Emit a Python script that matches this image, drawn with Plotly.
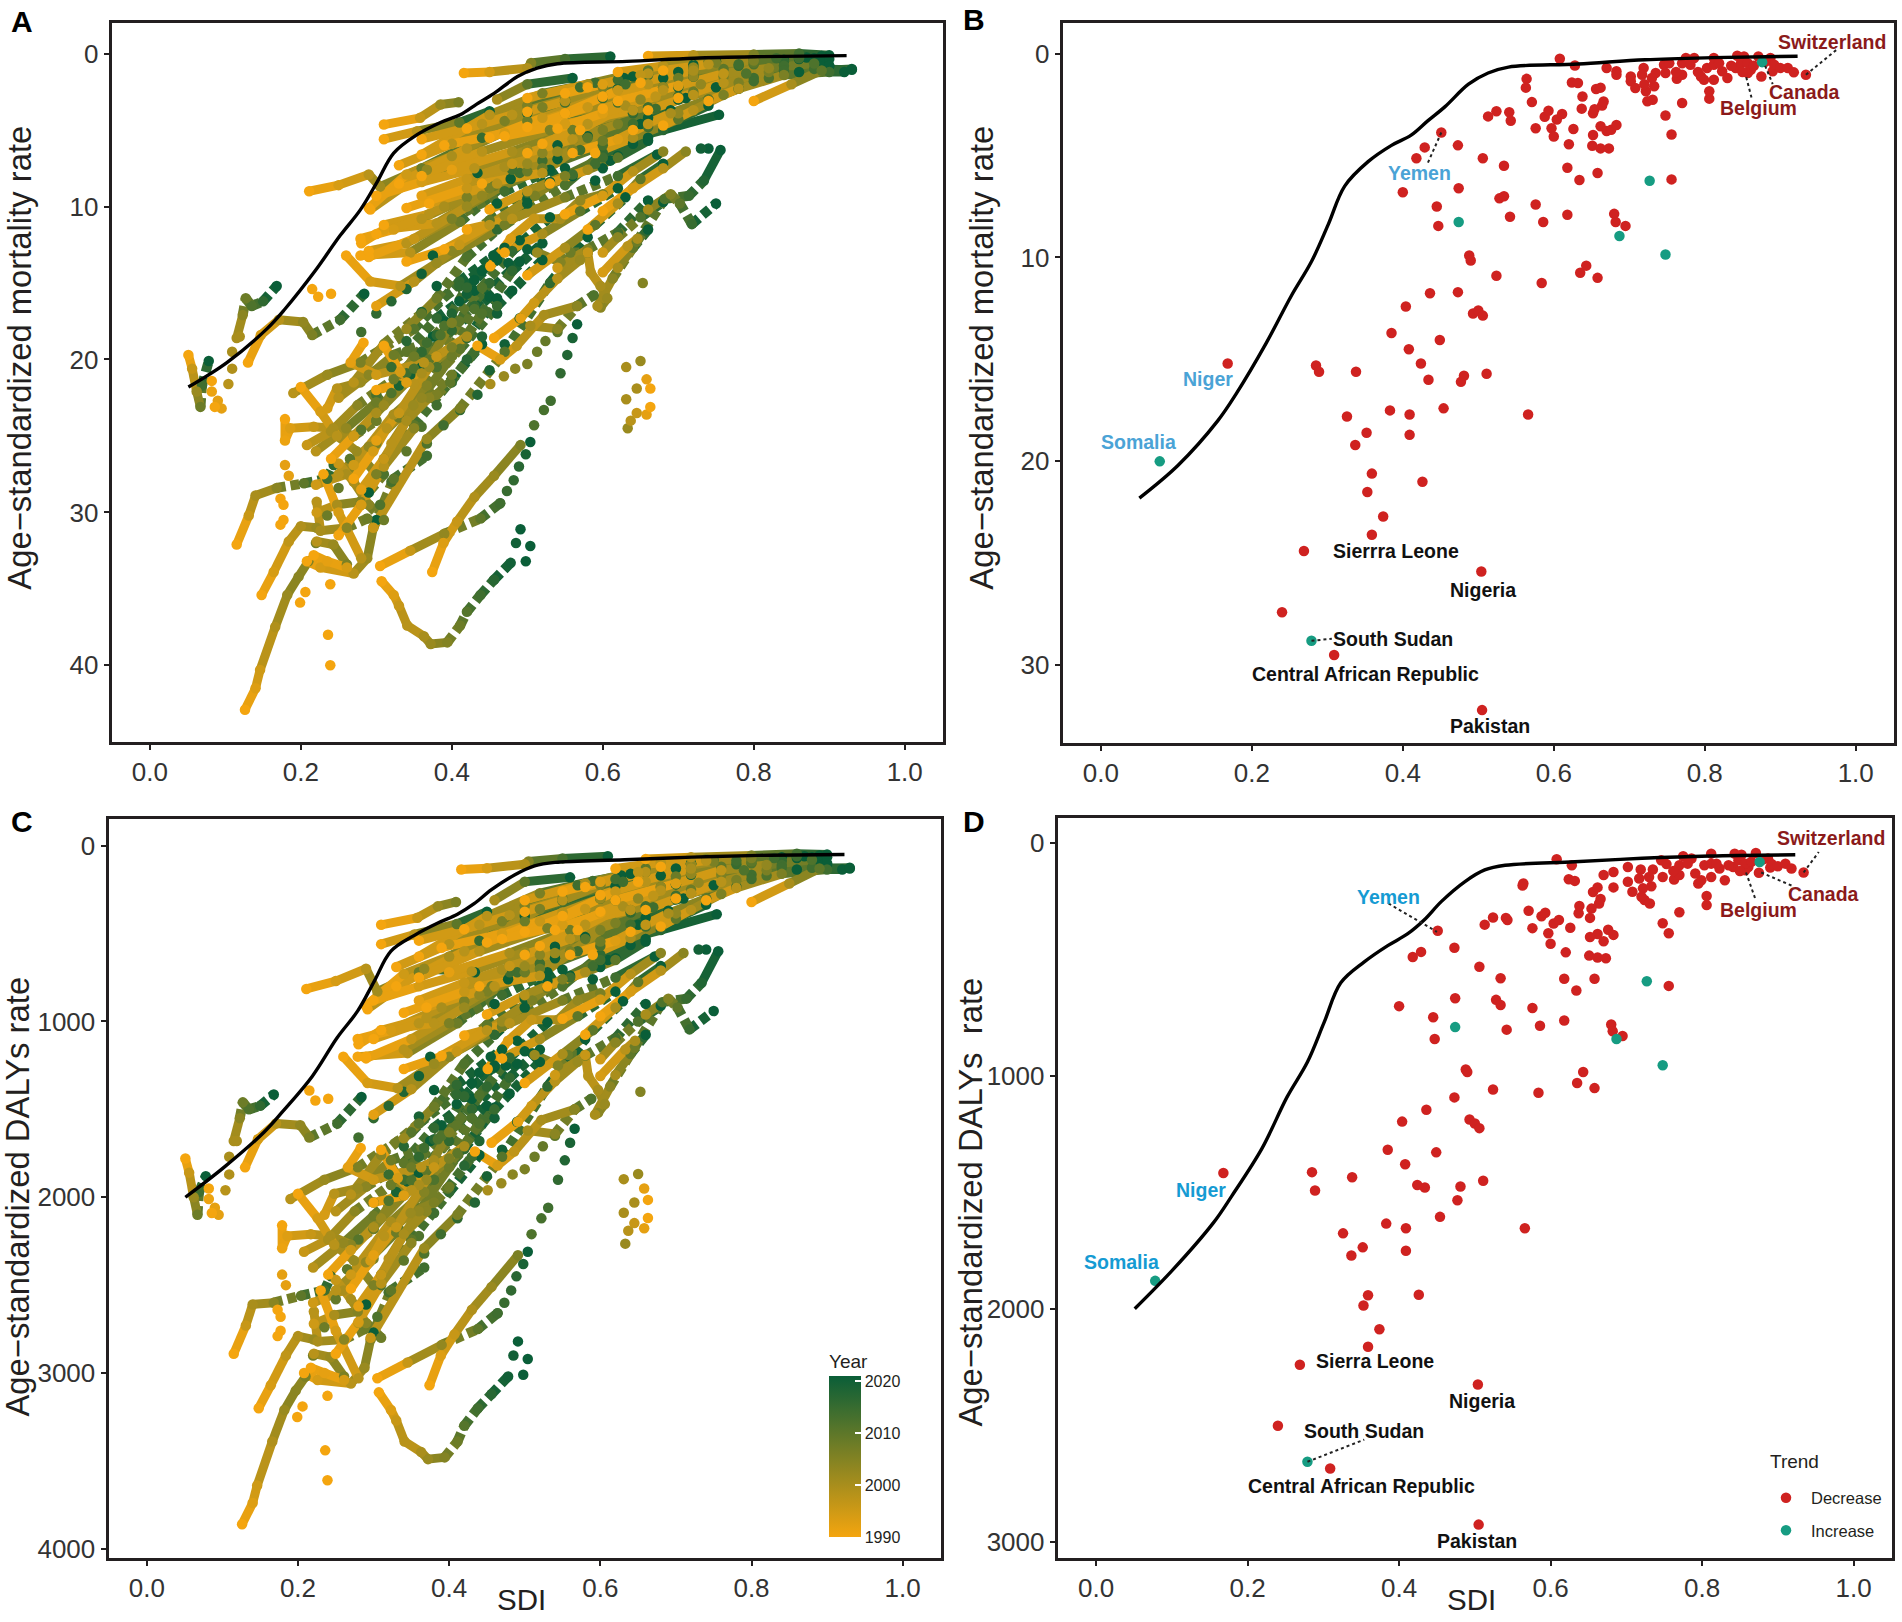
import plotly.graph_objects as go

# ---- expected curve
CURVE_SDI = [.051,.102,.155,.179,.219,.252,.279,.301,.323,.354,.385,.411,.433,.456,.487,.513,.54,.632,.721,.81,.923]
CURVE_MORT = [21.8,20.2,18,16.7,14.2,11.9,10.2,8.4,6.5,5.3,4.5,4,3.3,2.6,1.5,.95,.66,.51,.3,.2,.13]
CURVE_DALY = [2000,1830,1630,1516,1311,1091,940,770,600,510,440,390,330,250,165,115,95,80,65,55,50]

# ---- country paths drawn as connected tracks
TRACK_SDI = [
 [.416,.45,.50,.505,.55,.61],[.31,.354,.41,.45],[.31,.358,.385,.409],[.211,.25,.29,.305,.36,.44,.5],
 [.29,.34,.40,.50,.60,.68],[.33,.42,.52,.62,.72],[.36,.45,.52,.59,.628],[.46,.5,.56],
 [.55,.62,.72,.8,.88],[.45,.52,.6,.7,.78,.86],[.5,.58,.68,.76,.84,.89],[.6,.68,.76,.84,.9],
 [.66,.72,.8,.86,.9],[.7,.76,.82,.88,.93],[.74,.78,.84,.9,.92],[.8,.85,.89,.93],
 [.65,.72,.8,.87],[.58,.66,.75,.83,.89],[.5,.58,.66,.75],[.28,.31,.38,.44,.52,.6,.68,.754],
 [.29,.35,.42,.5,.57,.66],[.26,.292,.332,.38,.47,.55,.6,.65],[.31,.37,.45,.52,.58],[.37,.46,.56,.64,.69],
 [.44,.52,.6,.66,.71],[.42,.48,.55,.62,.672],[.5,.56,.62,.67,.7],[.57,.63,.68,.72],
 [.59,.64,.7,.74],[.593,.613,.645,.682,.714,.734,.756],[.66,.69,.702,.718,.75],[.115,.131,.14,.168,.204,.235,.2435],
 [.126,.14,.146,.166,.182,.197,.21],[.148,.164,.184,.2,.221],[.208,.226,.27,.288,.296,.323,.367],[.305,.345,.39,.438,.464],
 [.374,.389,.407,.43,.456,.491],[.307,.323,.33,.341,.363,.372,.394,.411,.42,.438,.456,.478],[.051,.056,.062,.067,.069,.078],[.115,.123,.127,.135,.15,.168],
 [.13,.147,.171,.203,.215,.252,.284],[.2,.226,.248,.274,.30],[.179,.179,.186,.217,.243,.27,.30],[.27,.296,.314,.349,.38,.398,.43],
 [.31,.332,.35,.38,.41,.45],[.283,.266,.30,.363,.38],[.208,.24,.275,.323,.385,.43,.49],[.19,.235,.279,.35,.41,.47],
 [.235,.248,.279,.323,.367],[.27,.323,.367,.411,.46,.52],[.296,.367,.411,.47,.53,.58],[.221,.248,.279,.31],
 [.221,.226,.261,.288],[.217,.235,.261],[.221,.243,.261],[.456,.491,.509,.54,.57],
 [.513,.544,.557,.58],[.504,.54,.566,.588],[.434,.464,.486,.522,.566],[.58,.584,.597,.606,.597],
 [.6,.633,.646],[.451,.478,.509,.544,.57,.6],[.279,.323,.39,.456,.49,.54],[.279,.345,.411,.478],
 [.292,.367,.434],[.36,.44,.53,.62,.7],[.39,.47,.55,.65,.72,.8],[.47,.55,.64,.72,.82],
 [.33,.40,.47,.55,.62],[.36,.44,.5,.57,.64],[.42,.48,.55,.63,.7],[.5,.55,.6,.66,.72],
 [.55,.6,.65,.72,.8],[.6,.66,.72,.78,.84],[.62,.68,.74,.8,.86],[.68,.74,.8,.86,.9],
 [.62,.7,.76,.82,.88],[.66,.72,.78,.84,.9],[.52,.58,.64,.7,.75],[.54,.6,.67,.73,.79],
 [.56,.62,.66,.7,.74],[.64,.69,.74,.78],[.68,.72,.76,.8,.86],[.3,.36,.42,.48,.54],
 [.29,.34,.4,.47,.53],[.34,.41,.47,.53,.59,.64],[.39,.45,.51,.56,.62],[.45,.5,.55,.6,.66],
 [.53,.58,.62,.66],[.55,.6,.64,.68],[.6,.64,.68,.71],[.47,.52,.57,.62],
 [.5,.55,.59,.63],[.58,.62,.65,.68],[.54,.58,.62,.66],[.62,.64,.66],[.6,.62,.65,.68],
 [.22,.26,.3,.35,.4,.45],[.25,.29,.33,.38,.42,.46],[.25,.29,.34,.38,.43],[.27,.31,.36,.41,.46],
 [.22,.26,.3],[.28,.31,.35,.4,.44],[.3,.33,.37,.4,.43],[.32,.36,.4,.44,.48,.52],
 [.36,.4,.44,.48,.53],[.25,.27,.29,.31],[.23,.25,.28],[.31,.35,.39,.42,.46],
 [.34,.38,.42,.46,.5],[.3,.35,.4,.45,.5,.55],
 [.24,.27,.3,.34,.37],[.25,.28,.31,.35],[.28,.31,.34,.37,.4],[.3,.34,.38,.42],
 [.3,.36,.43,.5],[.34,.42,.5,.58],[.4,.48,.56,.64],[.36,.42,.47,.52],[.48,.54,.6,.66],
]
TRACK_MORT = [
 [1.27,1.2,.95,.62,.35,.19],[5.6,5.07,4.5,3.77],[4.64,4.2,3.33,3.18],[9,8.6,7.9,8.7,7.5,5.5,3.9],
 [10.1,7.9,6.7,4.4,2.9,1.6],[8.5,6.2,3.5,1.7,.73],[6.6,4.0,2.6,1.9,1.6],[3,2.0,1.6],
 [3.9,2.4,1.5,.7,.3],[5.5,4.2,2.8,1.6,.8,.35],[4.8,3.5,2.2,1.0,.5,.6],[3.6,2.4,1.5,.8,.8],
 [.15,.1,.05,.0,.1],[2.9,1.9,1.2,1,1.05],[3.1,2.3,1.4,1.2,1.2],[3.1,2.0,1.1,1.0],
 [1.9,1.1,.6,.25],[2.2,1.3,.6,.3,.15],[2.9,2,1.1,.5],[12.4,11.5,11.1,9.3,7.5,6,5.0,4.0],
 [13.3,12.1,10,7.7,6.3,4.2],[13.2,14.9,15.2,13.7,11.2,8.6,6.5,4.6],[11.2,10.5,8.8,7,5.4],[9.8,8.5,6.3,4.6,3.7],
 [8.5,7.8,5,3.5,2.9],[11.5,10.8,9.4,8,6.6],[6.5,5.6,4.6,3.6,3],[5,3.4,2.2,1.5],
 [6.5,5.5,4.3,3.4],[16.5,14.7,12.3,9.5,9.3,8.3,6.3],[10.2,9.2,9.8,11.15,9.8],[32.1,30.2,28.9,28.4,28.1,27.8,26.9],
 [42.9,41.5,40.3,37.5,35.4,34.2,33.2],[35.4,33.9,31.9,30.9,31],[33.2,33.6,34,33,31,27.8,26.3],[33.5,32.5,31.4,30.4,29.4],
 [33.9,32,30.6,29,27.6,25.6],[34.5,35.4,36.1,37.4,38.1,38.6,38.5,37.4,36.5,35.4,34.4,33.3],[19.7,20.6,22.1,23.1,21.7,20.1],[18.6,17.1,16,16.5,16.2,15.2],
 [20.2,18.4,17.4,17.55,18.4,17.4,15.7],[21.8,23.4,25,26,27.5],[23.9,25.3,24.5,24.4,24.5,25,24],[27.8,26,24.5,23,22.3,21.5,19.5],
 [19.1,20.8,21.6,19.8,17.5,15],[18.9,20.2,21,20.2,19.8],[25.6,24.7,23,21.3,18.4,16.5,13.6],[22.2,21,20.2,18,14.9,12.7],
 [23.2,21.9,21.5,19.7,18.9],[26.9,23.6,21.7,19.3,16.5,13.5],[31,25.2,23.2,19.5,15,12],[30,29.5,29.3,27.5],
 [29.3,31.2,31,30.4],[32.8,33.2,33.6],[31.9,32.1,33.4],[18.6,17.3,16.3,14.7,13.5],
 [13,13.65,13,13],[17.8,18,16.5,15.8],[19.1,20,19.1,17.1,16.5],[13,14.3,15.2,16,16.6],
 [14.3,12.6,12.1],[13.9,12.1,10.8,10.8,9.6,9.2],[12.1,11.5,10,8.65,7.8,6.9],[13.2,13,11,8.2],
 [10.2,7.6,7.8],[8,6.4,5.0,3.2,2.2],[6,5.2,3.9,3,2.5,1.6],[5.4,4.6,3.7,2.7,1.6],
 [7.3,5.9,4.4,3.2,2.3],[5.6,4.6,3.4,2.2,1.5],[4.9,4,3,2,1.2],[3.8,3.1,2.2,1.4,.9],
 [2.6,2,1.4,.9,.45],[2.8,2.0,1.2,.7,.4],[1.2,.8,.5,.3,.2],[1.1,.7,.45,.3,.35],
 [3.1,2.1,1.3,.95,.65],[3.7,2.7,1.9,1.1,.8],[5.9,4.6,3.7,2.8,2.2],[4.9,3.9,2.8,2.0,1.3],
 [6.5,5.6,4.6,3.9,3.0],[5,3.9,3,2.3],[4.7,3.7,2.7,1.8,1.2],[11.8,10.8,9.4,7.6,6],
 [12.9,12.4,10.8,9,7.6],[13.6,12.5,10.6,8.6,7.2,5.9],[12.8,11.2,9.3,7.9,6.7],[10.2,9,8,6.8,5.5],
 [8.5,7.6,6.8,5.7],[10.5,9.3,7.7,6.4],[10.3,8.8,7.5,6.4],[13,11.8,10.3,8.8],
 [14.5,12.7,11.2,9.4],[11.5,9.8,8.2,7.2],[14,12.8,11.7,9.6],[14,12.7,11.5],[13,12,10.7,9.7],
 [26,24.5,22.8,20.6,18.1,15.9],[27.5,25.7,23.8,20.5,18.6,16],[22.5,21,19.5,17.3,15.5],[21.5,19,17,15.2,13.5],
 [28.2,27.5,25.5],[29.5,26.5,24.3,21.3,19],[25.3,23.5,20.5,19.2,16.7],[25.5,22.5,19.8,17,14.2,12.4],
 [20.9,17.6,15.3,12.9,10.7],[26.8,28,29.5,30.5],[27.5,30,33],[23,19.8,17.8,15.3,13.4],
 [18,16,13.3,11.5,9.8],[16.5,14.9,12.9,10.9,9.1,7.5],
 [26.5,25,23.5,21.5,20],[31.5,29.5,27,24.5],[28.5,26.5,24,22.5,21],[22,21.5,19.8,18.5],
 [9.3,8.4,7.5,6.3],[10.1,8.8,7.2,5.5],[7.6,6.4,5,3.9],[9.3,8.2,7.4,6.5],[7.2,6.4,5.7,4.8],
]
TRACK_DALY = [
 [135,128,105,90,72,60],[560,505,445,375],[450,410,345,320],[815,770,700,830,720,540,400],
 [910,730,630,430,300,170],[800,600,360,190,100],[630,400,270,200,170],[310,205,180],
 [400,260,160,100,65],[550,430,300,175,105,70],[490,360,235,120,85,90],[375,255,165,110,110],
 [75,65,55,45,50],[300,205,140,125,130],[310,240,160,135,135],[320,215,130,125],
 [205,130,90,60],[235,150,90,70,55],[310,215,130,85],[1130,1050,1010,850,700,570,480,390],
 [1210,1100,920,720,600,410],[1200,1350,1380,1240,1030,800,620,450],[1050,980,830,670,520],[920,800,600,450,370],
 [800,740,480,345,300],[1080,1010,880,750,630],[620,530,440,350,305],[480,345,235,165],
 [620,525,415,335],[1530,1370,1150,890,870,780,600],[960,870,920,1045,940],[2890,2730,2610,2600,2560,2530,2450],
 [3860,3740,3640,3390,3210,3100,3020],[3200,3070,2900,2790,2810],[3000,3040,3060,2970,2810,2530,2400],[3030,2940,2840,2750,2660],
 [3070,2900,2780,2640,2510,2330],[3110,3210,3270,3390,3450,3490,3480,3390,3300,3200,3120,3020],[1780,1860,2000,2100,1970,1880],[1680,1550,1460,1500,1480,1415],
 [1830,1670,1580,1590,1660,1580,1430],[1980,2120,2270,2360,2500],[2160,2290,2220,2210,2220,2270,2180],[2520,2360,2220,2090,2030,1950,1770],
 [1730,1890,1960,1800,1590,1370],[1720,1830,1900,1830,1790],[2310,2240,2080,1930,1670,1500,1240],[2010,1900,1830,1630,1360,1160],
 [2100,1980,1950,1790,1720],[2440,2140,1970,1750,1500,1230],[2800,2290,2100,1770,1370,1100],[2720,2670,2650,2500],
 [2650,2820,2810,2750],[2970,3000,3040],[2890,2910,3020],[1690,1570,1480,1340,1230],
 [1190,1250,1190,1190],[1620,1640,1500,1440],[1740,1820,1740,1560,1500],[1190,1310,1390,1470,1520],
 [1310,1160,1110],[1270,1110,990,990,880,840],[1100,1050,920,800,720,640],[1200,1180,1010,760],
 [930,700,720],[750,600,470,310,220],[580,500,380,300,250,165],[530,450,365,270,170],
 [690,560,430,315,230],[540,450,340,225,160],[475,395,300,205,130],[375,310,225,150,105],
 [260,205,150,105,70],[280,205,130,85,65],[130,95,75,60,55],[120,85,70,60,65],
 [310,215,140,110,80],[365,270,195,125,100],[570,450,365,285,225],[480,385,285,210,140],
 [620,540,450,385,300],[490,385,300,235],[460,365,275,190,135],[1100,1010,885,720,575],
 [1200,1160,1010,850,720],[1270,1170,1000,810,685,565],[1195,1050,880,750,640],[960,850,760,650,530],
 [800,720,650,545],[985,875,730,610],[970,830,710,610],[1210,1100,970,830],
 [1350,1185,1050,885],[1075,920,775,685],[1305,1195,1095,900],[1305,1185,1075],[1215,1120,1000,910],
 [2400,2260,2105,1905,1680,1480],[2530,2370,2200,1900,1725,1490],[2080,1940,1805,1605,1440],[1985,1760,1580,1415,1260],
 [2600,2530,2350],[2715,2440,2240,1970,1760],[2330,2170,1900,1780,1550],[2350,2080,1830,1580,1320,1160],
 [1930,1630,1420,1205,1005],[2470,2580,2715,2800],[2530,2760,3030],[2120,1830,1650,1425,1250],
 [1665,1485,1240,1075,920],[1530,1385,1200,1020,855,705],
 [2440,2300,2170,1990,1850],[2890,2710,2490,2260],[2620,2440,2210,2080,1940],[2030,1990,1830,1710],
 [880,800,715,605],[950,830,685,530],[720,610,480,380],[880,780,705,620],[685,610,545,460],
]
TRACK_YEAR = [
 [1990,1994,1999,2005,2013,2021],[1990,1998,2010,2021],[1990,1996,2002,2006],[1990,1994,1998,2001,2008,2015,2021],
 [1990,1995,2000,2008,2016,2021],[1990,1998,2006,2014,2021],[1990,1998,2006,2014,2021],[2000,2010,2021],
 [1990,1996,2003,2012,2021],[1990,1996,2002,2008,2015,2021],[1990,1996,2003,2010,2016,2021],[1990,1998,2006,2014,2021],
 [1990,1998,2006,2014,2021],[1990,1998,2006,2014,2021],[1990,1998,2006,2014,2021],[1990,2000,2010,2021],
 [1990,2000,2010,2021],[1990,1998,2006,2014,2021],[1990,2000,2010,2021],[1990,1993,1998,2003,2008,2013,2017,2021],
 [1990,1996,2002,2008,2014,2021],[1990,1994,1998,2002,2007,2012,2016,2021],[1990,1998,2006,2014,2021],[1990,1998,2006,2014,2021],
 [1990,1998,2006,2014,2021],[1990,1998,2006,2014,2021],[1990,1998,2006,2014,2021],[1990,2000,2010,2021],
 [1990,2000,2010,2021],[2000,2004,2008,2012,2015,2018,2021],[2000,2005,2010,2015,2021],[1990,1996,2000,2004,2010,2014,2016],
 [1990,1993,1995,1999,2002,2004,2006],[1990,1994,1997,1999,2002],[1990,1994,1998,2002,2005,2010,2014],[1990,1996,2003,2010,2014],
 [1990,1993,1996,1999,2002,2006],[1990,1993,1996,1998,2000,2002,2005,2008,2011,2014,2017,2020],[1990,1996,2002,2008,2014,2021],[2000,2004,2008,2012,2016,2021],
 [1990,1994,1998,2003,2006,2014,2021],[1990,1994,1998,2002,2006],[1990,1991,1993,1996,2000,2004,2008],[1990,1994,1998,2002,2006,2010,2014],
 [1990,1994,1998,2003,2010,2016],[1990,1992,1995,1998,2000],[1996,2000,2004,2008,2012,2016,2021],[1998,2002,2006,2011,2016,2021],
 [1994,1998,2002,2008,2014],[1995,2000,2005,2010,2015,2021],[1996,2002,2006,2011,2016,2021],[1995,2000,2005,2012],
 [1998,2000,2004,2008],[1990,1992,1994],[1998,2002,2006],[1990,1992,1995,1998,2002],
 [2002,2005,2008,2010],[2000,2004,2008,2012],[1990,1994,1997,2000,2004],[1996,1998,2000,2002,2004],
 [1994,1998,2000],[1990,1993,1996,2000,2003,2006],[1990,1994,2000,2008,2014,2021],[1990,1998,2008,2021],
 [1990,2003,2021],[1990,1998,2006,2014,2021],[1990,1994,1998,2003,2008,2014],[1990,1994,1998,2003,2012],
 [1990,1998,2006,2014,2021],[1990,1998,2006,2014,2021],[1990,1998,2006,2014,2021],[1990,1998,2006,2014,2021],
 [1990,1993,1997,2003,2012],[1990,1998,2006,2014,2021],[1990,1998,2006,2014,2021],[1990,1998,2006,2014,2021],
 [1990,1993,1997,2003,2012],[1990,1998,2006,2014,2021],[1990,1998,2006,2014,2021],[1990,1993,1997,2003,2012],
 [1990,1993,1997,2003,2012],[1990,2000,2010,2021],[1990,1998,2006,2014,2021],[1990,1998,2006,2014,2021],
 [1990,1998,2006,2014,2021],[1990,1996,2002,2008,2014,2021],[1990,1998,2006,2014,2021],[1990,1998,2006,2014,2021],
 [1990,2000,2010,2021],[1990,1994,1998,2004],[1990,1994,1998,2004],[1990,2000,2010,2021],
 [1990,2000,2010,2021],[1990,2000,2010,2021],[1995,2005,2014,2021],[2000,2010,2021],[1995,2004,2012,2021],
 [1998,2003,2008,2012,2016,2021],[1998,2003,2008,2012,2016,2021],[1998,2004,2010,2016,2021],[1998,2004,2010,2016,2021],
 [1995,2000,2006],[1998,2004,2010,2016,2021],[1992,1996,2002,2006,2012],[1998,2003,2008,2012,2016,2021],
 [2000,2006,2012,2016,2021],[1996,2000,2004,2008],[1990,1994,1998],[2002,2008,2012,2016,2021],
 [2002,2008,2012,2016,2021],[1992,1998,2004,2010,2016,2021],
 [1990,1995,2000,2005,2010],[1990,1994,1998,2004],[1992,1996,2000,2004,2008],[1990,1993,1996,2000],
 [1990,1994,1998,2002],[1990,1996,2002,2010],[1992,2000,2008,2016],[1992,1996,2000,2004],[1996,2002,2008,2014],
]

# ---- country paths whose yearly dots stand apart
DOT_SDI = [
 [.239,.236,.239,.206,.199,.179,.184,.173,.177,.177,.173,.215,.223,.24],
 [.082,.082,.09,.095,.086,.104,.109,.109,.119],
 [.74,.73,.491,.485,.504,.498],
 [.631,.65,.645,.631,.658,.663,.633,.637,.645,.658,.663,.653],
 [.451,.469,.484,.5,.513,.524,.54],
 [.464,.473,.482,.489,.498,.504],
 [.509,.522,.531,.544,.553,.56,.566],
 [.22,.235,.25,.265,.28,.30,.32,.34,.36,.38],
 [.28,.30,.32,.34,.36,.375],
 [.30,.32,.34,.36,.38,.40,.42,.44],
 [.34,.36,.38,.40,.42,.44,.46,.48],
 [.305,.32,.3,.29],
 [.367,.389,.411,.434,.45,.47,.49],
 [.33,.345,.36,.375,.39,.41,.43,.455,.475,.5,.49,.51],
 [.46,.5,.53,.56,.59,.6,.61],
]
DOT_MORT = [
 [34.7,38,40,35.2,35.9,26.9,27.6,29.1,29.5,30.5,30.8,15.4,15.9,15.7],
 [21.4,22.1,22.7,23.2,23.1,21.6,20.6,19.5,18.5],
 [6.2,6.2,31.1,32,32.2,33.2],
 [20.5,20.1,21.9,22.6,21.3,21.9,24.5,24,23.5,23.6,23.1,15],
 [21.6,21.1,20.6,20.3,19.5,18.8,18.2],
 [29.4,28.6,27.9,27,26.2,25.4],
 [24.3,23.3,22.7,20.9,19.7,18.6,17.7],
 [32,30.2,28.4,26.5,24.6,22.3,20.5,18.8,16.9,15.2],
 [18.2,17,16.2,15.4,14.4,13.2],
 [24,22.2,20.9,19.5,18.4,17,15.7,14.2],
 [26,24.4,23,21.5,20,18.5,17,15.5],
 [29.5,28,30.5,28.7],
 [25.5,24.3,23.3,22.3,20.7,19,17.3],
 [21.7,21,20.5,18.5,17.5,16.2,14.8,13.2,13.7,12.8,12.2,12.9],
 [9.8,9.5,8.4,8,8.3,7.5,7],
]
DOT_DALY = [
 [3130,3440,3610,3190,3250,2440,2500,2640,2680,2760,2790,1393,1450,1440],
 [1950,2010,2060,2100,2090,1960,1870,1770,1680],
 [590,590,2820,2900,2920,3010],
 [1897,1868,2030,2088,1950,2015,2264,2191,2147,2176,2118,1400],
 [1960,1920,1870,1840,1770,1710,1650],
 [2660,2600,2530,2450,2380,2310],
 [2210,2120,2060,1900,1790,1690,1610],
 [2900,2740,2580,2410,2240,2030,1870,1710,1540,1390],
 [1660,1550,1480,1400,1310,1200],
 [2180,2020,1900,1770,1670,1550,1430,1290],
 [2360,2220,2090,1960,1820,1680,1550,1410],
 [2680,2540,2770,2610],
 [2320,2210,2120,2030,1880,1730,1570],
 [1970,1910,1860,1680,1590,1470,1350,1200,1250,1170,1110,1180],
 [900,870,770,740,760,690,650],
]
DOT_YEAR = [
 [1990,1990,1990,1990,1990,1992,1992,1990,1990,1990,1990,1990,1990,1990],
 [1990,1991,1992,1992,1990,1998,1999,2000,2000],
 [2021,2020,2021,2020,2021,2021],
 [2000,2002,2000,2000,1992,1990,2002,1998,1996,1992,1990,2005],
 [2000,2002,2004,2006,2008,2009,2010],
 [2014,2015,2016,2017,2019,2021],
 [2012,2013,2014,2016,2018,2019,2021],
 [2007,2008,2009,2010,2011,2013,2015,2017,2019,2021],
 [2014,2016,2017,2018,2020,2021],
 [2010,2012,2014,2016,2017,2018,2020,2021],
 [2010,2012,2014,2016,2017,2018,2020,2021],
 [2012,2013,2021,2021],
 [2012,2014,2016,2018,2019,2020,2021],
 [2019,2020,2021,2021,2021,2021,2021,2021,2021,2021,2021,2021],
 [2021,2021,2021,2021,2021,2021,2021],
]

# ---- 2021 country values
DEC_SDI = [.168,.269,.504,.24,.309,.505,.359,.374,.353,.359,.426,.337,.352,.326,.409,.409,.383,.454,.566,.285,.289,.338,.424,.434,.477,.481,.511,.408,.449,.385,
 .404,.436,.473,.493,.5,.506,.488,.49,.524,.584,.635,.643,.658,.447,.445,.4,.474,.528,.534,.542,.576,.586,.618,.68,.682,.695,.756,.634,.658,.618,
 .534,.506,.418,.429,.473,.451,.513,.524,.541,.543,.563,.564,.571,.576,.588,.593,.604,.611,.597,.6,.62,.626,.637,.638,.624,.632,.628,.608,.656,.662,
 .664,.666,.652,.654,.662,.652,.67,.676,.683,.651,.662,.673,
 .67,.683,.683,.702,.702,.708,.722,.719,.717,.735,.733,.731,.724,.72,.746,.753,.748,.763,.77,.77,.77,.775,.786,.781,.795,.799,.803,.812,.812,.812,
 .806,.806,.748,.823,.83,.819,.841,.843,.852,.848,.857,.861,.857,.871,.875,.887,.89,.892,.9,.91,.918,.934,.762,.791,.835,.865,.85,.88,.73,.756]
DEC_MORT = [15.2,24.4,25.4,27.4,29.5,32.2,23.6,22.7,21.5,20.6,21,19.2,18.6,17.8,18.7,17.7,17.5,17.4,17.7,15.3,15.6,15.6,15.2,16,16.1,15.8,15.7,14.5,14.05,13.7,
 12.4,11.75,11.7,12.75,12.6,12.85,9.9,10.15,10.9,11.25,10.75,10.4,11,8.45,7.5,6.8,6.6,7.1,7,8,7.4,8.26,7.9,7.86,8.26,8.45,6.17,6.2,5.86,5.6,
 5.5,5.13,5.13,4.6,4.5,3.87,3.08,2.83,2.88,3.29,1.67,1.24,2.38,3.66,3.1,2.8,3.23,2.96,3.66,4.07,4.45,3.7,2.7,2.1,1.42,1.44,.58,.25,1.74,1.67,
 2.55,2.35,2.93,2.73,3.56,3.99,3.8,3.74,3.5,4.52,4.65,4.65,
 .71,.87,1.04,1.12,1.36,1.69,1.85,.71,1.04,.95,1.6,2.26,2.34,1.5,.55,.47,.95,1.23,.47,1.04,2.42,.22,.22,.55,1.12,1.28,.71,.22,.55,1.28,
 2.21,1.85,3.04,.87,1.2,.47,.71,.11,.14,.47,.95,.79,.47,.14,1.12,.22,.87,.55,.71,.71,.92,1.04,.9,.9,.6,.6,.9,.4,1.2,3.97]
DEC_DALY = [1417,2240,2325,2502,2686,2927,2163,2088,1986,1942,1940,1771,1736,1676,1751,1654,1634,1605,1654,1413,1492,1435,1468,1479,1534,1475,1450,1379,1328,1317,
 1196,1145,1092,1187,1204,1224,972,983,1058,1072,1030,983,1052,841,748,700,666,673,695,801,708,784,762,779,808,828,613,633,582,582,
 580,531,489,467,449,376,350,319,321,330,182,173,290,365,314,299,345,330,387,432,469,363,301,270,155,162,95,69,210,190,
 259,240,321,281,390,403,421,372,394,483,491,494,
 137,124,190,102,166,209,194,113,152,113,185,259,244,230,73,90,145,156,95,137,297,56,66,88,173,159,95,45,88,145,
 266,227,344,109,159,88,102,45,50,73,116,102,88,42,127,66,105,90,99,88,109,126,120,130,95,80,120,70,145,387]
INC_SDI = [.078,.279,.474,.687,.748,.727,.876]
INC_MORT = [20.0,28.8,8.26,8.95,9.85,6.24,.42]
INC_DALY = [1880,2657,790,841,954,593,81]

# ---- ticks and labels
X_TICKS = [0, .2, .4, .6, .8, 1]
X_TICK_LABELS = ["0.0", "0.2", "0.4", "0.6", "0.8", "1.0"]
Y_TICKS_A = [0, 10, 20, 30, 40]
Y_TICKS_B = [0, 10, 20, 30]
Y_TICKS_C = [0, 1000, 2000, 3000, 4000]
Y_TICKS_D = [0, 1000, 2000, 3000]
YEAR_TICKS = [1990, 2000, 2010, 2020]

W, H = 1902, 1622
FONT = "Liberation Sans, Arial, sans-serif"
INK = "#231f20"
LOW = (244, 165, 15)
HIGH = (10, 94, 56)
COLORSCALE = [[0, "rgb(244,165,15)"], [1, "rgb(10,94,56)"]]
MARKER = 10.5
LINE = 9
N_BINS = 10

PANELS = {
    "A": dict(ax="", box=(111.6, 943, 22.8, 745), xr=(-.0507, 1.0507), yr=(45.03, -2.02)),
    "B": dict(ax="2", box=(1062.6, 1894, 23.3, 745.5), xr=(-.0507, 1.0507), yr=(33.8, -1.49)),
    "C": dict(ax="3", box=(108.5, 941, 822.4, 1563.7), xr=(-.0507, 1.0507), yr=(4052, -150)),
    "D": dict(ax="4", box=(1057.7, 1892, 821.3, 1563.7), xr=(-.0507, 1.0507), yr=(3070, -107)),
}


def rgb_for(year):
    t = min(max((year - 1990) / 31, 0), 1)
    return "rgb(%d,%d,%d)" % tuple(round(a + (b - a) * t) for a, b in zip(LOW, HIGH))


fig = go.Figure()


def add_tracks(ax, values, dot_values, colorbar=None):
    # strokes: darkest first so the orange early years lie on top.  Late, high-rate
    # stretches have widely spaced yearly dots in the reference, so they get a broken stroke.
    solid = [([], []) for _ in range(N_BINS)]
    broken = [([], []) for _ in range(N_BINS)]
    for xs, ys, yrs, morts in zip(TRACK_SDI, values, TRACK_YEAR, TRACK_MORT):
        for i in range(len(xs) - 1):
            mid = (yrs[i] + yrs[i + 1]) / 2
            k = min(int((mid - 1990) / 31 * N_BINS), N_BINS - 1)
            group = broken if (mid >= 2006 and (morts[i] + morts[i + 1]) / 2 > 8) else solid
            group[k][0].extend([xs[i], xs[i + 1], None])
            group[k][1].extend([ys[i], ys[i + 1], None])
    for group, dash, width in ((broken, "9px,5px", LINE + 1), (solid, "solid", LINE)):
        for k in range(N_BINS - 1, -1, -1):
            if group[k][0]:
                fig.add_trace(go.Scatter(
                    x=group[k][0], y=group[k][1], mode="lines", xaxis="x" + ax, yaxis="y" + ax,
                    line=dict(color=rgb_for(1990 + 31 * (k + .5) / N_BINS), width=width, dash=dash),
                    hoverinfo="skip", showlegend=False))
    rows = []
    for xs, ys, yrs in list(zip(TRACK_SDI, values, TRACK_YEAR)) + list(zip(DOT_SDI, dot_values, DOT_YEAR)):
        rows += list(zip(xs, ys, yrs))
    rows.sort(key=lambda r: -r[2])
    marker = dict(size=MARKER, color=[r[2] for r in rows], cmin=1990, cmax=2021, colorscale=COLORSCALE, line=dict(width=0))
    if colorbar:
        marker["colorbar"] = colorbar
        marker["showscale"] = True
    fig.add_trace(go.Scatter(x=[r[0] for r in rows], y=[r[1] for r in rows], mode="markers",
                             xaxis="x" + ax, yaxis="y" + ax, marker=marker, showlegend=False, name="Year"))


def add_points(ax, dec, inc, legend):
    fig.add_trace(go.Scatter(x=DEC_SDI, y=dec, mode="markers", xaxis="x" + ax, yaxis="y" + ax, name="Decrease",
                             marker=dict(size=MARKER, color="#cf2220"), showlegend=legend, legendgroup="dec"))
    fig.add_trace(go.Scatter(x=INC_SDI, y=inc, mode="markers", xaxis="x" + ax, yaxis="y" + ax, name="Increase",
                             marker=dict(size=MARKER, color="#169c82"), showlegend=legend, legendgroup="inc"))


def add_curve(ax, values):
    fig.add_trace(go.Scatter(x=CURVE_SDI, y=values, mode="lines", xaxis="x" + ax, yaxis="y" + ax,
                             line=dict(color="black", width=3.4, shape="spline", smoothing=1),
                             hoverinfo="skip", showlegend=False))


YEAR_BAR = dict(
    title=dict(text="Year", side="top", font=dict(size=19, family=FONT, color=INK)),
    x=829 / W, xanchor="left", xpad=0, y=1 - 1543 / H, yanchor="bottom", ypad=0,
    thickness=32, thicknessmode="pixels", len=187, lenmode="pixels",
    tickvals=YEAR_TICKS, ticks="inside", ticklen=6, tickcolor="white", tickwidth=1.5, tickprefix="\u00a0",
    tickfont=dict(size=16, family=FONT, color=INK), outlinewidth=0, bgcolor="rgba(0,0,0,0)")

add_tracks("", TRACK_MORT, DOT_MORT)
add_curve("", CURVE_MORT)
add_points("2", DEC_MORT, INC_MORT, False)
add_curve("2", CURVE_MORT)
add_tracks("3", TRACK_DALY, DOT_DALY, YEAR_BAR)
add_curve("3", CURVE_DALY)
add_points("4", DEC_DALY, INC_DALY, True)
add_curve("4", CURVE_DALY)

layout = dict(width=W, height=H, margin=dict(l=0, r=0, t=0, b=0), paper_bgcolor="white", plot_bgcolor="white",
              font=dict(family=FONT, color=INK))
for name, p in PANELS.items():
    l, r, t, b = p["box"]
    ax = p["ax"]
    common = dict(showline=True, mirror=True, linecolor=INK, linewidth=3, showgrid=False, zeroline=False,
                  ticks="outside", ticklen=5, tickwidth=2, tickcolor=INK, tickfont=dict(size=26, family=FONT, color="#333"))
    layout["xaxis" + ax] = dict(domain=[l / W, r / W], range=list(p["xr"]), anchor="y" + ax,
                                tickvals=X_TICKS, ticktext=X_TICK_LABELS, **common)
    yticks = {"A": Y_TICKS_A, "B": Y_TICKS_B, "C": Y_TICKS_C, "D": Y_TICKS_D}[name]
    layout["yaxis" + ax] = dict(domain=[1 - b / H, 1 - t / H], range=list(p["yr"]), anchor="x" + ax,
                                tickvals=yticks, ticktext=[str(v) for v in yticks], **common)
layout["legend"] = dict(x=1761 / W, xanchor="left", y=1 - 1486 / H, yanchor="top", bgcolor="rgba(0,0,0,0)",
                        font=dict(size=16.5, family=FONT, color=INK), tracegroupgap=8, itemsizing="trace", itemwidth=40)
fig.update_layout(**layout)

DARK_RED = "#8b1a1a"
LIGHT_BLUE_B = "#4aa3d6"
LIGHT_BLUE_D = "#159bd3"
BLACK = "#111111"
LABELS_B = [("Switzerland", .969, -.56, DARK_RED), ("Canada", .932, 1.87, DARK_RED), ("Belgium", .871, 2.68, DARK_RED),
            ("Yemen", .422, 5.84, LIGHT_BLUE_B), ("Niger", .1415, 15.97, LIGHT_BLUE_B), ("Somalia", .05, 19.05, LIGHT_BLUE_B),
            ("Sierrra Leone", .391, 24.4, BLACK), ("Nigeria", .506, 26.3, BLACK), ("South Sudan", .387, 28.7, BLACK),
            ("Central African Republic", .351, 30.43, BLACK), ("Pakistan", .516, 33.0, BLACK)]
LABELS_D = [("Switzerland", .97, -24, DARK_RED), ("Canada", .96, 217, DARK_RED), ("Belgium", .874, 286, DARK_RED),
            ("Yemen", .386, 230, LIGHT_BLUE_D), ("Niger", .138, 1490, LIGHT_BLUE_D), ("Somalia", .034, 1798, LIGHT_BLUE_D),
            ("Sierra Leone", .368, 2223, BLACK), ("Nigeria", .51, 2396, BLACK), ("South Sudan", .354, 2526, BLACK),
            ("Central African Republic", .351, 2761, BLACK), ("Pakistan", .503, 2998, BLACK)]
LEADERS_B = [(.934, 1.04, .975, -.2), (.88, .6, .89, 1.5), (.855, 1.16, .862, 2.17), (.451, 3.87, .432, 5.46), (.279, 28.8, .306, 28.7)]
LEADERS_D = [(.934, 126, .954, 38), (.878, 126, .918, 182), (.858, 126, .87, 237), (.386, 259, .45, 381), (.279, 2657, .354, 2562)]

for ax, labels, leaders in (("2", LABELS_B, LEADERS_B), ("4", LABELS_D, LEADERS_D)):
    for text, x, y, col in labels:
        fig.add_annotation(text=text, x=x, y=y, xref="x" + ax, yref="y" + ax, showarrow=False,
                           font=dict(size=19.5, family=FONT, color=col, weight="bold"))
    for x0, y0, x1, y1 in leaders:
        fig.add_shape(type="line", x0=x0, y0=y0, x1=x1, y1=y1, xref="x" + ax, yref="y" + ax,
                      line=dict(color="#222", width=2, dash="dot"))


def paper_text(text, x, y, size, angle=0, weight="normal", color=INK):
    fig.add_annotation(text=text, x=x / W, y=1 - y / H, xref="paper", yref="paper", showarrow=False,
                       xanchor="center", yanchor="middle", textangle=angle,
                       font=dict(size=size, family=FONT, color=color, weight=weight))


for text, x, y in (("A", 22, 22), ("B", 974, 20), ("C", 22, 825), ("D", 974, 825)):
    paper_text(text, x, y, 30, weight="bold", color="black")
for text, x, y in (("Age\u2212standardized mortality rate", 20, 359), ("Age\u2212standardized mortality rate", 982, 359),
                   ("Age\u2212standardized DALYs rate", 18, 1201), ("Age\u2212standardized DALYs\u00a0 rate", 971, 1207)):
    paper_text(text, x, y, 32.8, angle=-90)
for x in (521, 1471):
    paper_text("SDI", x, 1605, 29.5)
paper_text("Trend", 1794, 1467, 19)

fig.write_html("out.html", post_script="document.body.style.margin='0';document.documentElement.style.overflow='hidden';",
               config=dict(displayModeBar=False))
